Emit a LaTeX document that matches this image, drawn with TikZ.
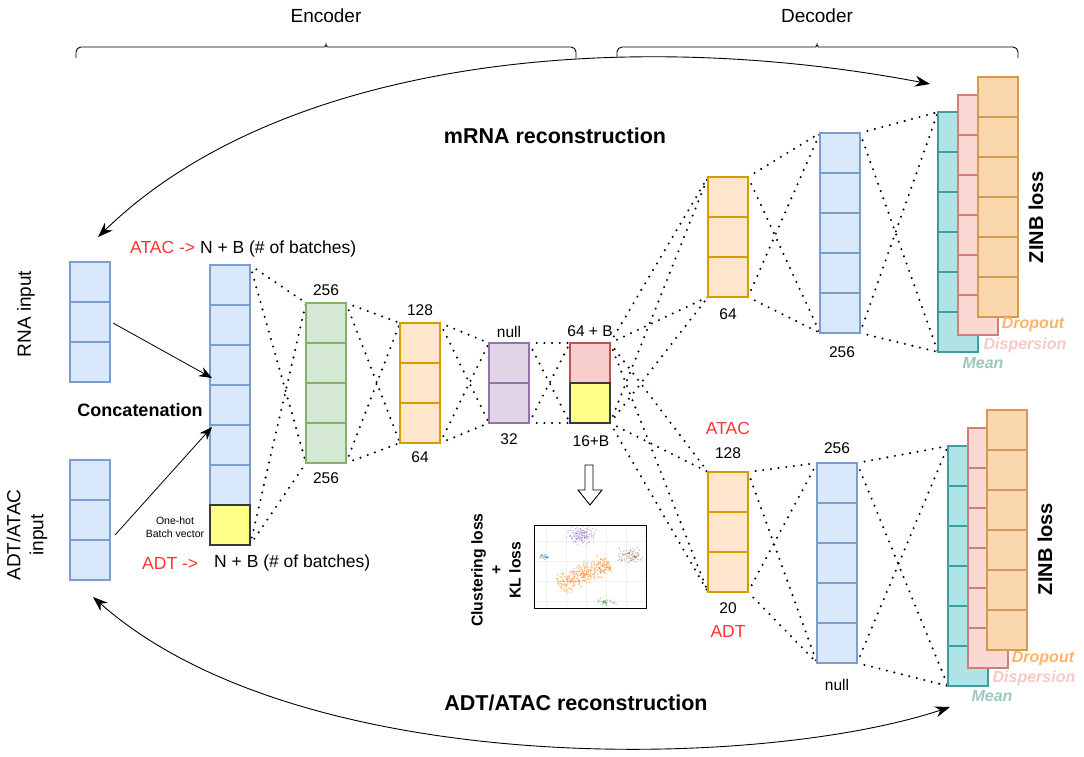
\documentclass[tikz,border=0pt]{standalone}
\usepackage{fontspec}
\setmainfont{Liberation Sans}
\usetikzlibrary{arrows.meta,calc}
\definecolor{bfill}{HTML}{DAE8FC}
\definecolor{bdraw}{HTML}{7C9CCB}
\definecolor{gfill}{HTML}{D5E8D4}
\definecolor{gdraw}{HTML}{82B366}
\definecolor{ofill}{HTML}{FFE6CC}
\definecolor{odraw}{HTML}{D79B00}
\definecolor{pfill}{HTML}{E1D5E7}
\definecolor{pdraw}{HTML}{9673A6}
\definecolor{rfill}{HTML}{F8CECC}
\definecolor{rdraw}{HTML}{B85450}
\definecolor{yfill}{HTML}{FFFF88}
\definecolor{ydraw}{HTML}{36393D}
\definecolor{tfill}{HTML}{B0E3E6}
\definecolor{tdraw}{HTML}{3A9FA5}
\definecolor{kfill}{HTML}{FAD9D5}
\definecolor{kdraw}{HTML}{CF7F76}
\definecolor{dfill}{HTML}{FAD7AC}
\definecolor{ddraw}{HTML}{D49A52}
\definecolor{redtxt}{HTML}{FF3333}
\definecolor{droptxt}{HTML}{FFB366}
\definecolor{disptxt}{HTML}{F8C8C4}
\definecolor{meantxt}{HTML}{9AC9C0}
\definecolor{cpur}{HTML}{9467BD}
\definecolor{cblu}{HTML}{1F77B4}
\definecolor{cora}{HTML}{FF7F0E}
\definecolor{cbro}{HTML}{8C564B}
\definecolor{cgre}{HTML}{2CA02C}
\newcommand\mycells[4]{\foreach \k in {1,...,#2}{\draw[#4,line width=1.2pt] ($(#1.north west)+(0,\k*#3)$) -- ($(#1.north east)+(0,\k*#3)$);}}
\newcommand\fullconn[2]{%
  \draw[dotl] (#1.north east) -- (#2.north west);
  \draw[dotl] (#1.north east) -- (#2.south west);
  \draw[dotl] (#1.south east) -- (#2.north west);
  \draw[dotl] (#1.south east) -- (#2.south west);}
\newcommand\cluster[7]{% color, cx, cy, sx, sy, n, seed
  \pgfmathsetseed{#7}
  \foreach \i in {1,...,#6}{%
    \pgfmathsetmacro\px{#2+#4*(rand+rand)/2}%
    \pgfmathsetmacro\py{#3+#5*(rand+rand)/2}%
    \fill[#1,opacity=.5] (\px,\py) circle (0.7pt);}}
\tikzset{
  lay/.style={draw, line width=1.2pt, minimum width=40pt, inner sep=0pt, outer sep=0pt},
  dotl/.style={line width=2.3pt, dash pattern=on 0pt off 7.7pt, line cap=round, black},
  lbl/.style={inner sep=0pt, font=\fontsize{15.5}{18}\selectfont},
  big/.style={inner sep=0pt, font=\fontsize{17.5}{20}\selectfont},
  ttl/.style={inner sep=0pt, font=\fontsize{21.5}{25}\selectfont\bfseries},
  leg/.style={inner sep=0pt, font=\fontsize{16}{18}\selectfont\bfseries\itshape},
  zinb/.style={inner sep=0pt, rotate=90, font=\fontsize{20}{24}\selectfont\bfseries},
  brace/.style={line width=0.9pt, rounded corners=5pt},
  recon/.style={line width=0.9pt, {Stealth[length=15pt,width=11pt]}-{Stealth[length=15pt,width=11pt]}},
  catarr/.style={line width=0.8pt, -{Stealth[length=13pt,width=10pt]}}
}
\begin{document}
\begin{tikzpicture}[x=1pt,y=-1pt]
\useasboundingbox (0,0) rectangle (1084,756);
\fill[white] (0,0) rectangle (1084,756);

% braces and headings
\node[inner sep=0pt, font=\fontsize{19}{22}\selectfont] (enc) at (326,16) {Encoder};
\node[inner sep=0pt, font=\fontsize{19}{22}\selectfont] (dec) at (817,16) {Decoder};
\draw[brace] (76,58) -- (76,47) -- (320,47) .. controls (324,47) and (326,45) .. (326,40) .. controls (326,45) and (328,47) .. (332,47) -- (576,47) -- (576,58);
\draw[brace] (617,58) -- (617,47) -- (811,47) .. controls (815,47) and (817,45) .. (817,40) .. controls (817,45) and (819,47) .. (823,47) -- (1018,47) -- (1018,58);

% ---------- layer positions (for the dotted connections) ----------
\node[lay, draw=none, minimum height=280pt] (cat) at (230,405) {};
\node[lay, draw=none, minimum height=160pt] (grn) at (326,383) {};
\node[lay, draw=none, minimum height=120pt] (eo) at (420,383) {};
\node[lay, draw=none, minimum height=80pt] (pur) at (509,383) {};
\node[lay, draw=none, minimum height=80pt] (lat) at (590,383) {};
\node[lay, draw=none, minimum height=120pt] (dto) at (728,237) {};
\node[lay, draw=none, minimum height=200pt] (dtb) at (840,233) {};
\node[lay, draw=none, minimum height=240pt] (mt) at (958,232) {};
\node[lay, draw=none, minimum height=120pt] (dbo) at (728,532) {};
\node[lay, draw=none, minimum height=200pt] (dbb) at (837,563) {};
\node[lay, draw=none, minimum height=240pt] (mb) at (968,566) {};

\fullconn{cat}{grn}
\fullconn{grn}{eo}
\fullconn{eo}{pur}
\fullconn{pur}{lat}
\fullconn{lat}{dto}
\fullconn{lat}{dbo}
\fullconn{dto}{dtb}
\fullconn{dtb}{mt}
\fullconn{dbo}{dbb}
\fullconn{dbb}{mb}

% ---------- inputs ----------
\node[lay, fill=bfill, draw=bdraw, minimum height=120pt] (rna) at (90,322) {};
\mycells{rna}{2}{40}{bdraw}
\node[lay, fill=bfill, draw=bdraw, minimum height=120pt] (adt) at (90,520) {};
\mycells{adt}{2}{40}{bdraw}
\node[inner sep=0pt, rotate=90, font=\fontsize{19}{23}\selectfont] (rnal) at (26,314) {RNA input};
\node[inner sep=0pt, rotate=90, align=center, font=\fontsize{19}{23}\selectfont] (adtl) at (27,535) {ADT/ATAC\\input};

% concatenated vector
\node[lay, fill=bfill, draw=bdraw, minimum height=280pt] (catb) at (230,405) {};
\mycells{catb}{6}{40}{bdraw}
\node[lay, fill=yfill, draw=ydraw, minimum height=40pt] (caty) at (230,525) {};
\node[inner sep=0pt, align=center, font=\fontsize{10.5}{13}\selectfont] (onehot) at (175,527) {One-hot\\Batch vector};
\node[inner sep=0pt, font=\fontsize{18}{21}\selectfont\bfseries] (concat) at (140,410) {Concatenation};
\node[big, anchor=west] (atacin) at (130,249) {\textcolor{redtxt}{ATAC ->} N + B (\# of batches)};
\node[big, anchor=west, text=redtxt] (adtin) at (142,563) {ADT ->};
\node[big, anchor=west] (adtnb) at (214,563) {N + B (\# of batches)};

\draw[catarr] ($(rna.east)+(3,1)$) -- ($(catb.west)+(2,-27)$);
\draw[catarr] ($(adt.east)+(5,15)$) -- ($(catb.west)+(2,22)$);

% encoder layers
\node[lay, fill=gfill, draw=gdraw, minimum height=160pt] (grnb) at (326,383) {};
\mycells{grnb}{3}{40}{gdraw}
\node[lbl] (g1) at (326,290) {256};
\node[lbl] (g2) at (326,478) {256};

\node[lay, fill=ofill, draw=odraw, minimum height=120pt] (eob) at (420,383) {};
\mycells{eob}{2}{40}{odraw}
\node[lbl] (e1) at (420,310) {128};
\node[lbl] (e2) at (420,457) {64};

\node[lay, fill=pfill, draw=pdraw, minimum height=80pt] (purb) at (509,383) {};
\mycells{purb}{1}{40}{pdraw}
\node[lbl] (p1) at (509,332) {null};
\node[lbl] (p2) at (509,439) {32};

\node[lay, fill=rfill, draw=rdraw, minimum height=40pt] (latr) at (590,363) {};
\node[lay, fill=yfill, draw=ydraw, minimum height=40pt] (laty) at (590,403) {};
\node[lbl] (l1) at (590,331) {64 + B};
\node[lbl] (l2) at (591,441) {16+B};

% hollow arrow
\draw[line width=0.9pt, fill=white] (585,465) -- (593,465) -- (593,490) -- (602,490) -- (590,505) -- (578,490) -- (585,490) -- cycle;

% scatter plot
\foreach \gx in {546,566,586,606,626}{\draw[gray!12, line width=0.5pt] (\gx,526) -- (\gx,607);}
\foreach \gy in {541,561,581,601}{\draw[gray!12, line width=0.5pt] (535,\gy) -- (645,\gy);}
\cluster{cpur}{582}{535}{17}{10}{140}{3}
\cluster{cblu}{544}{557}{7}{3}{25}{5}
\cluster{cbro}{630}{555}{14}{9}{80}{11}
\cluster{cgre}{607}{602}{11}{4}{35}{13}
\pgfmathsetseed{17}
\foreach \i in {1,...,420}{%
  \pgfmathsetmacro\tt{rand}%
  \pgfmathsetmacro\ss{(rand+rand)/2}%
  \pgfmathsetmacro\px{584+25*\tt+5*\ss}%
  \pgfmathsetmacro\py{574-11*\tt+11*\ss}%
  \fill[cora,opacity=.5] (\px,\py) circle (0.7pt);}
\node[draw, line width=1pt, minimum width=112pt, minimum height=83pt, inner sep=0pt] (plot) at (590,566.5) {};
\node[inner sep=0pt, rotate=90, align=center, font=\fontsize{15.7}{19}\selectfont\bfseries] (clus) at (496,570) {Clustering loss\\+\\KL loss};

% decoder top
\node[lay, fill=ofill, draw=odraw, minimum height=120pt] (dtob) at (728,237) {};
\mycells{dtob}{2}{40}{odraw}
\node[lbl] (t1) at (728,314) {64};
\node[lay, fill=bfill, draw=bdraw, minimum height=200pt] (dtbb) at (840,233) {};
\mycells{dtbb}{4}{40}{bdraw}
\node[lbl] (t2) at (842,352) {256};

\node[lay, fill=tfill, draw=tdraw, minimum height=240pt] (mtb) at (958,232) {};
\mycells{mtb}{5}{40}{tdraw}
\node[lay, fill=kfill, draw=kdraw, minimum height=240pt] (kt) at (978,215) {};
\mycells{kt}{5}{40}{kdraw}
\node[lay, fill=dfill, draw=ddraw, minimum height=240pt] (dt) at (998,197) {};
\mycells{dt}{5}{40}{ddraw}
\node[leg, text=droptxt] (dropt) at (1033,325) {Dropout};
\node[leg, text=disptxt] (dispt) at (1025,345) {Dispersion};
\node[leg, text=meantxt] (meant) at (983,363) {Mean};
\node[zinb] (zinbt) at (1036,217) {ZINB loss};

% decoder bottom
\node[lay, fill=ofill, draw=odraw, minimum height=120pt] (dbob) at (728,532) {};
\mycells{dbob}{2}{40}{odraw}
\node[big, text=redtxt] (b0) at (728,428) {ATAC};
\node[lbl] (b1) at (728,453) {128};
\node[lbl] (b2) at (728,608) {20};
\node[big, text=redtxt] (b3) at (728,631) {ADT};
\node[lay, fill=bfill, draw=bdraw, minimum height=200pt] (dbbb) at (837,563) {};
\mycells{dbbb}{4}{40}{bdraw}
\node[lbl] (b4) at (837,448) {256};
\node[lbl] (b5) at (837,685) {null};

\node[lay, fill=tfill, draw=tdraw, minimum height=240pt] (mbb) at (968,566) {};
\mycells{mbb}{5}{40}{tdraw}
\node[lay, fill=kfill, draw=kdraw, minimum height=240pt] (kb) at (988,548) {};
\mycells{kb}{5}{40}{kdraw}
\node[lay, fill=dfill, draw=ddraw, minimum height=240pt] (db) at (1007,530) {};
\mycells{db}{5}{40}{ddraw}
\node[leg, text=droptxt] (dropb) at (1043,659) {Dropout};
\node[leg, text=disptxt] (dispb) at (1034,678) {Dispersion};
\node[leg, text=meantxt] (meanb) at (992,696) {Mean};
\node[zinb] (zinbb) at (1045,549) {ZINB loss};

% reconstruction arcs
\coordinate (ml) at (98,237);
\coordinate (mr) at (930,84);
\coordinate (al) at (93,597);
\coordinate (ar) at (950,707);
\draw[recon] (ml) .. controls (280,60) and (620,25) .. (mr);
\draw[recon] (al) .. controls (300,780) and (760,770) .. (ar);
\node[ttl] (mrna) at (555,136) {mRNA reconstruction};
\node[ttl] (adtr) at (576,703) {ADT/ATAC reconstruction};
\end{tikzpicture}
\end{document}
